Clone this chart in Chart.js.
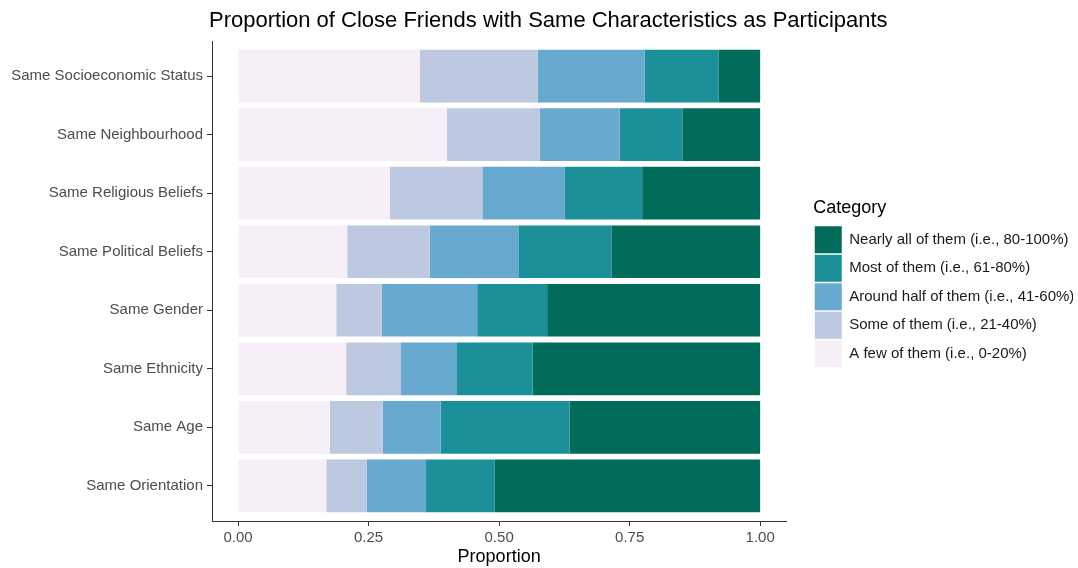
<!DOCTYPE html>
<html>
  <head>
    <title>Close Friends</title>
    <style>
      body { margin: 0; background: #fff; }
    </style>
  </head>
  <body>
    <canvas id="friendsChart" width="1078" height="568"></canvas>

    <script src="https://cdn.jsdelivr.net/npm/chart.js@4"></script>
    <script>
      var categories = [
        "Same Socioeconomic Status",
        "Same Neighbourhood",
        "Same Religious Beliefs",
        "Same Political Beliefs",
        "Same Gender",
        "Same Ethnicity",
        "Same Age",
        "Same Orientation",
      ];
      var fewOfThem = [0.348, 0.4, 0.291, 0.209, 0.188, 0.207, 0.176, 0.169];
      var someOfThem = [0.226, 0.178, 0.177, 0.158, 0.087, 0.105, 0.101, 0.077];
      var aroundHalf = [0.205, 0.153, 0.158, 0.171, 0.183, 0.106, 0.111, 0.114];
      var mostOfThem = [0.141, 0.12, 0.148, 0.177, 0.134, 0.146, 0.247, 0.131];
      var nearlyAll = [0.08, 0.149, 0.226, 0.285, 0.408, 0.436, 0.365, 0.509];
      var xTicks = [0, 0.25, 0.5, 0.75, 1];

      var font = "'Liberation Sans', Arial, sans-serif";

      // title sits left aligned over the panel, like ggplot
      var titlePlugin = {
        id: "panelTitle",
        afterDraw: function (chart) {
          var ctx = chart.ctx;
          ctx.save();
          ctx.font = "22px " + font;
          ctx.fillStyle = "#000";
          ctx.textBaseline = "alphabetic";
          ctx.textAlign = "left";
          ctx.fillText(
            "Proportion of Close Friends with Same Characteristics as Participants",
            chart.chartArea.left - 3,
            27
          );
          ctx.restore();
        },
      };

      // gap between panel and legend, legend centred on the panel
      var legendShift = {
        id: "legendShift",
        afterLayout: function (chart) {
          var lg = chart.legend;
          if (lg) {
            lg.left += 27;
            lg.right += 27;
            lg.top = chart.chartArea.top + 3;
            lg.bottom = chart.chartArea.bottom + 3;
          }
        },
      };

      // the index axis is linear so the band padding matches ggplot (0.6 each side)
      function bar(label, values, color) {
        return {
          label: label,
          data: values.map(function (v, i) {
            return { x: v, y: i };
          }),
          backgroundColor: color,
          borderWidth: 0,
          barPercentage: 0.9,
          categoryPercentage: 1,
        };
      }

      var chart = new Chart(document.getElementById("friendsChart"), {
        type: "bar",
        data: {
          datasets: [
            bar("A few of them (i.e., 0-20%)", fewOfThem, "#f6eff7"),
            bar("Some of them (i.e., 21-40%)", someOfThem, "#bdc9e1"),
            bar("Around half of them (i.e., 41-60%)", aroundHalf, "#67a9cf"),
            bar("Most of them (i.e., 61-80%)", mostOfThem, "#1c9099"),
            bar("Nearly all of them (i.e., 80-100%)", nearlyAll, "#016c59"),
          ],
        },
        options: {
          indexAxis: "y",
          responsive: false,
          animation: false,
          layout: { padding: { left: 7, top: 41, right: 32, bottom: 0 } },
          plugins: {
            tooltip: { enabled: false },
            legend: {
              position: "right",
              reverse: true,
              title: {
                display: true,
                text: "Category",
                position: "start",
                color: "#000",
                font: { family: font, size: 18 },
                padding: { top: 0, bottom: 4 },
              },
              labels: {
                boxWidth: 27,
                boxHeight: 27,
                padding: 1.5,
                color: "#1a1a1a",
                font: { family: font, size: 15 },
              },
            },
          },
          scales: {
            x: {
              type: "linear",
              stacked: true,
              min: -0.05,
              max: 1.05,
              afterBuildTicks: function (scale) {
                scale.ticks = xTicks.map(function (v) {
                  return { value: v };
                });
              },
              afterFit: function (scale) {
                scale.height = 47;
              },
              ticks: {
                color: "#4d4d4d",
                font: { family: font, size: 15 },
                padding: 3,
                maxRotation: 0,
                callback: function (v) {
                  return Number(v).toFixed(2);
                },
              },
              grid: {
                drawOnChartArea: false,
                drawTicks: true,
                tickLength: 5,
                color: "#333",
              },
              border: { display: true, color: "#333", width: 1 },
              title: {
                display: true,
                text: "Proportion",
                color: "#000",
                font: { family: font, size: 18 },
                padding: { top: 0, bottom: 0 },
              },
            },
            y: {
              type: "linear",
              stacked: true,
              reverse: true,
              offset: false,
              min: -0.6,
              max: categories.length - 0.4,
              afterBuildTicks: function (scale) {
                scale.ticks = categories.map(function (c, i) {
                  return { value: i };
                });
              },
              afterFit: function (scale) {
                scale.width = 205;
              },
              ticks: {
                color: "#4d4d4d",
                font: { family: font, size: 15 },
                padding: 4,
                callback: function (v) {
                  return categories[v];
                },
              },
              grid: {
                offset: false,
                drawOnChartArea: false,
                drawTicks: true,
                tickLength: 5,
                color: "#333",
              },
              border: { display: true, color: "#333", width: 1 },
            },
          },
        },
        plugins: [titlePlugin, legendShift],
      });
    </script>
  </body>
</html>
